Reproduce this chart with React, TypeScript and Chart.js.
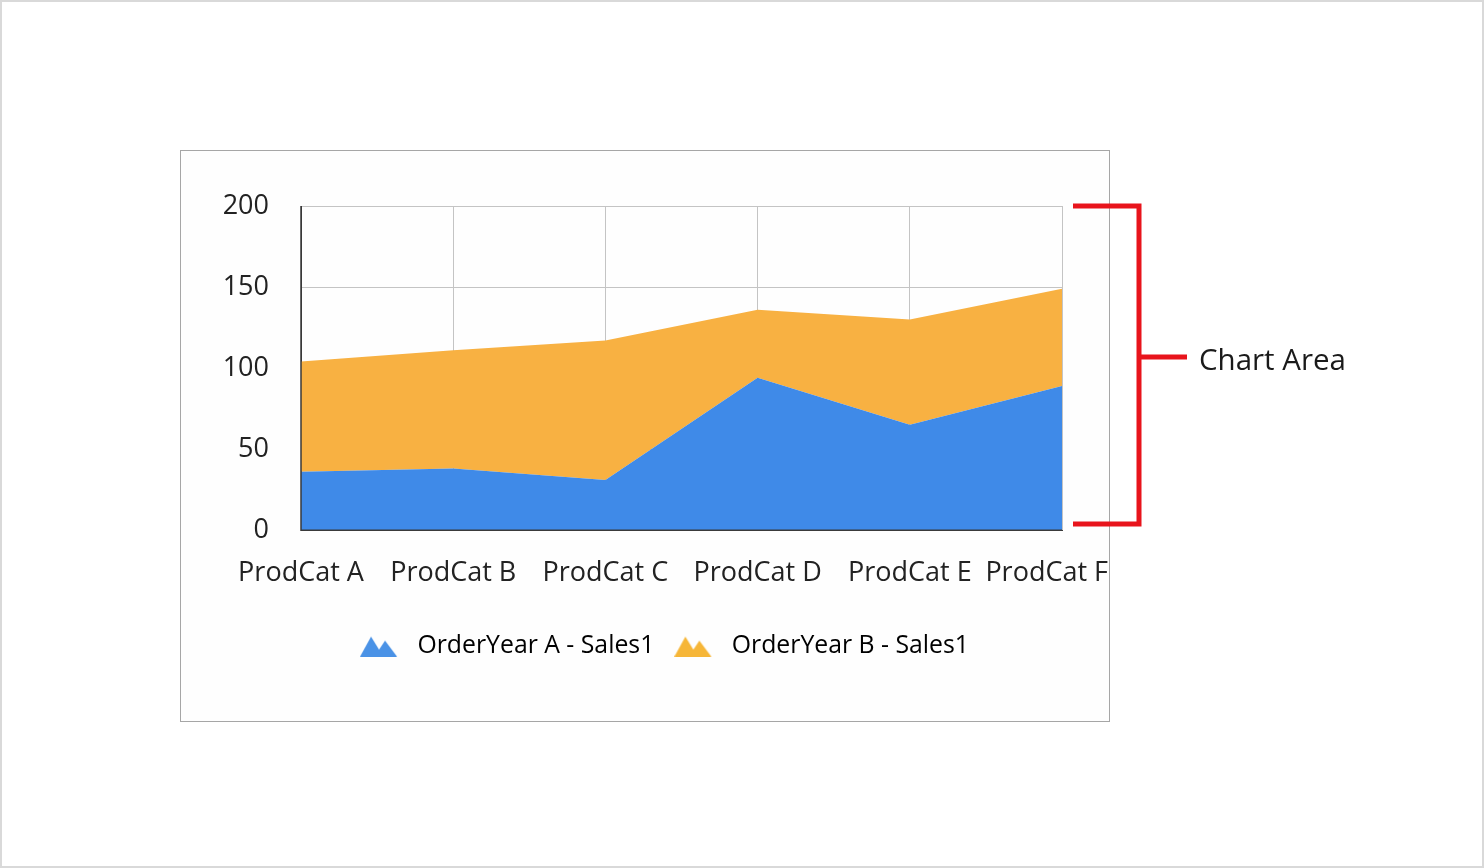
import React, { useEffect, useRef } from "react";
import { Chart, registerables } from "chart.js";

Chart.register(...registerables);

const categories = ["ProdCat A", "ProdCat B", "ProdCat C", "ProdCat D", "ProdCat E", "ProdCat F"];
const seriesNames = ["OrderYear A - Sales1", "OrderYear B - Sales1"];
const salesYearA = [36, 38, 31, 94, 65, 89];
const salesYearB = [68, 73, 86, 42, 65, 60];
const yTicks = [0, 50, 100, 150, 200];

const BLUE = "#3f8ae8";
const ORANGE = "#f8b142";
const FONT = "'Open Sans', 'Noto Sans', sans-serif";

function mountainIcon(color: string): HTMLCanvasElement {
  const c = document.createElement("canvas");
  c.width = 38;
  c.height = 22;
  const ctx = c.getContext("2d")!;
  ctx.fillStyle = color;
  ctx.beginPath();
  ctx.moveTo(0, 22);
  ctx.lineTo(11, 2);
  ctx.lineTo(19, 15);
  ctx.lineTo(25, 6);
  ctx.lineTo(37, 22);
  ctx.closePath();
  ctx.fill();
  return c;
}

const axisLinePlugin = {
  id: "axisLines",
  beforeDraw(chart: any) {
    // keep the last category label inside the chart box, as in the reference
    const s = chart.scales.x;
    const items = s.getLabelItems();
    if (items && items.length) {
      const last = items[items.length - 1];
      last.options.textAlign = "right";
      last.options.translation = [927, last.options.translation[1]];
    }
  },
  afterDatasetsDraw(chart: any) {
    const { ctx, chartArea } = chart;
    ctx.save();
    ctx.strokeStyle = "#3a3a3a";
    ctx.lineWidth = 1.5;
    ctx.beginPath();
    ctx.moveTo(chartArea.left, chartArea.top);
    ctx.lineTo(chartArea.left, chartArea.bottom);
    ctx.lineTo(chartArea.right, chartArea.bottom);
    ctx.stroke();
    ctx.restore();
  },
};

function AreaChart() {
  const ref = useRef<HTMLCanvasElement>(null);
  useEffect(() => {
    const icons = [mountainIcon("#4a92e6"), mountainIcon("#f6b638")];
    const chart = new Chart(ref.current!, {
      type: "line",
      data: {
        labels: categories,
        datasets: [
          {
            label: seriesNames[0],
            data: salesYearA,
            backgroundColor: BLUE,
            borderColor: BLUE,
            borderWidth: 0,
            pointRadius: 0,
            fill: "origin",
            tension: 0,
            pointStyle: icons[0],
          },
          {
            label: seriesNames[1],
            data: salesYearB,
            backgroundColor: ORANGE,
            borderColor: ORANGE,
            borderWidth: 0,
            pointRadius: 0,
            fill: "-1",
            tension: 0,
            pointStyle: icons[1],
          },
        ],
      },
      options: {
        responsive: false,
        animation: false,
        layout: { padding: { left: 0, top: 55, right: 0, bottom: 53 } },
        plugins: {
          tooltip: { enabled: false },
          legend: {
            position: "bottom",
            labels: {
              usePointStyle: true,
              pointStyleWidth: 52,
              padding: 13,
              color: "#222",
              font: { family: FONT, size: 24.8 },
              generateLabels: () =>
                seriesNames.map((n, i) => ({
                  text: n,
                  pointStyle: icons[i],
                  fillStyle: i === 0 ? BLUE : ORANGE,
                  strokeStyle: "transparent",
                  lineWidth: 0,
                  hidden: false,
                  datasetIndex: i,
                })),
            },
          },
        },
        scales: {
          x: {
            grid: { color: "#c4c4c4", drawTicks: false, lineWidth: 1 },
            border: { color: "#3a3a3a" },
            ticks: { color: "#222", font: { family: FONT, size: 27 }, padding: 27, maxRotation: 0, autoSkip: false },
            afterFit: (s: any) => {
              s.height = 90;
              s.paddingRight = 79;
            },
          },
          y: {
            stacked: true,
            min: 0,
            max: 200,
            afterBuildTicks: (s: any) => {
              s.ticks = yTicks.map((v) => ({ value: v }));
            },
            grid: { color: "#c4c4c4", drawTicks: false, lineWidth: 1 },
            border: { color: "#3a3a3a" },
            ticks: { color: "#222", font: { family: FONT, size: 27 }, padding: 32 },
            afterFit: (s: any) => {
              s.width = 120;
            },
          },
        },
      },
      plugins: [axisLinePlugin],
    });
    return () => chart.destroy();
  }, []);
  return <canvas ref={ref} width={960} height={570} style={{ display: "block" }} />;
}

export default function App() {
  return (
    <div
      style={{
        position: "fixed",
        left: 0,
        top: 0,
        width: 1484,
        height: 868,
        boxSizing: "border-box",
        border: "2px solid #d9d9d9",
        background: "#ffffff",
        fontFamily: FONT,
      }}
    >
      <div
        style={{
          position: "absolute",
          left: 178,
          top: 148,
          width: 928,
          height: 570,
          border: "1px solid #a6a6a6",
          overflow: "hidden",
          background: "#fefefe",
        }}
      >
        <AreaChart />
      </div>
      <svg
        width={1484}
        height={868}
        style={{ position: "absolute", left: -2, top: -2, pointerEvents: "none" }}
      >
        <path
          d="M1073 206 L1139 206 L1139 524 L1073 524 M1139 357 L1187 357"
          fill="none"
          stroke="#e8141c"
          strokeWidth={5}
        />
      </svg>
      <div
        style={{
          position: "absolute",
          left: 1197,
          top: 339,
          fontSize: 29.5,
          color: "#1a1a1a",
          lineHeight: "36px",
          whiteSpace: "nowrap",
        }}
      >
        Chart Area
      </div>
    </div>
  );
}
